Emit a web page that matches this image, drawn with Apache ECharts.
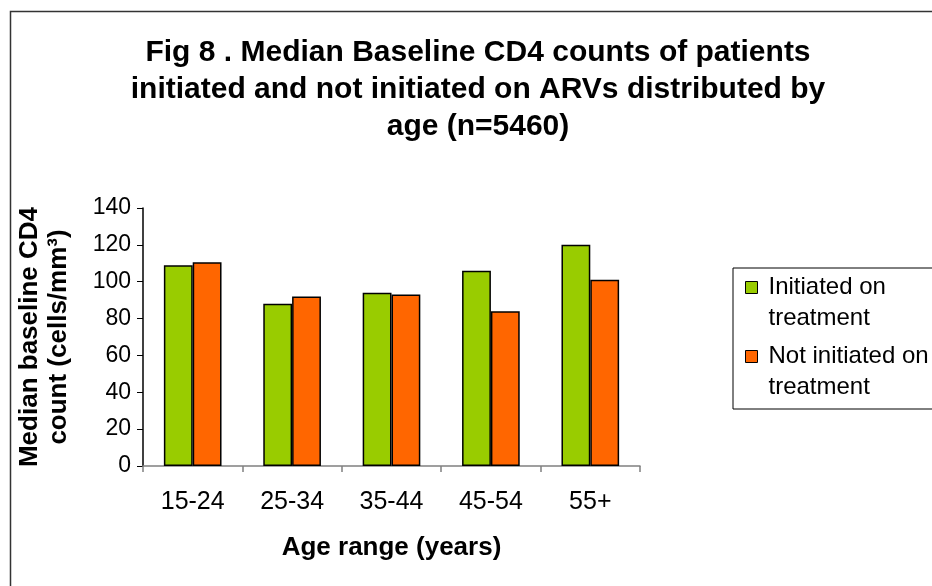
<!DOCTYPE html>
<html>
<head>
<meta charset="utf-8">
<script src="https://cdn.jsdelivr.net/npm/echarts@6/dist/echarts.min.js"></script>
<style>html,body{margin:0;padding:0;background:#fff}#c{width:932px;height:586px}</style>
</head>
<body>
<div id="c"></div>
<script>
var categories = ['15-24', '25-34', '35-44', '45-54', '55+'];
var initiated = [109, 88, 94, 106, 120];
var notInitiated = [110.5, 92, 93, 84, 101];
var yTicks = [0, 20, 40, 60, 80, 100, 120, 140];
var seriesNames = ['Initiated on treatment', 'Not initiated on treatment'];
var legendLabels = {'Initiated on treatment': 'Initiated on\ntreatment', 'Not initiated on treatment': 'Not initiated on\ntreatment'};

var font = 'Liberation Sans, Arial, sans-serif';
var chart = echarts.init(document.getElementById('c'));
chart.setOption({
  backgroundColor: '#fff',
  animation: false,
  title: {
    text: 'Fig 8 . Median Baseline CD4 counts of patients\ninitiated and not initiated on ARVs distributed by\nage (n=5460)',
    left: 478,
    textAlign: 'center',
    top: 29,
    padding: [5, 0, 5, 0],
    textStyle: {fontFamily: font, fontSize: 30, fontWeight: 'bold', color: '#000', lineHeight: 37}
  },
  graphic: [{
    type: 'rect', left: 8, top: 9, z: -1, silent: true,
    shape: {width: 940, height: 600},
    style: {fill: 'none', stroke: '#333', lineWidth: 1.5}
  }],
  legend: {
    orient: 'vertical',
    left: 733, top: 268,
    padding: [4, 20, 6, 12],
    borderColor: '#000', borderWidth: 1,
    itemWidth: 18, itemHeight: 43, itemGap: 7,
    icon: 'path://M0,0L12,0L12,12L0,12Z M18,43',
    itemStyle: {borderColor: '#000', borderWidth: 1},
    data: seriesNames,
    formatter: function (n) { return legendLabels[n]; },
    textStyle: {fontFamily: font, fontSize: 24, color: '#000', lineHeight: 31}
  },
  grid: {left: 143, right: 292, top: 208, bottom: 120, outerBoundsMode: 'none', containLabel: false},
  xAxis: {
    type: 'category',
    data: categories,
    name: 'Age range (years)',
    nameLocation: 'middle',
    nameGap: 69,
    nameTextStyle: {fontFamily: font, fontSize: 26, fontWeight: 'bold', color: '#000'},
    axisLine: {lineStyle: {color: '#808080', width: 1.5}},
    axisTick: {show: true, length: 6, lineStyle: {color: '#808080', width: 1.5}},
    axisLabel: {fontFamily: font, fontSize: 25, color: '#000', margin: 24},
    splitLine: {show: false}
  },
  yAxis: {
    type: 'value',
    min: 0, max: 140, interval: 20,
    name: 'Median baseline CD4\ncount (cells/mm³)',
    nameLocation: 'middle',
    nameGap: 70,
    nameTextStyle: {fontFamily: font, fontSize: 26, fontWeight: 'bold', color: '#000', lineHeight: 29},
    axisLine: {show: true, lineStyle: {color: '#000', width: 1.5}},
    axisTick: {show: true, length: 6, lineStyle: {color: '#000', width: 1}},
    axisLabel: {fontFamily: font, fontSize: 23, color: '#000', margin: 12,
      formatter: function (v) { return yTicks.indexOf(v) >= 0 ? String(v) : ''; }},
    splitLine: {show: false}
  },
  series: [{
    name: seriesNames[0], type: 'bar', data: initiated,
    barGap: '0%', barCategoryGap: '42%',
    itemStyle: {color: '#99CC00', borderColor: '#000', borderWidth: 1.5}
  }, {
    name: seriesNames[1], type: 'bar', data: notInitiated,
    itemStyle: {color: '#FF6600', borderColor: '#000', borderWidth: 1.5}
  }]
});
</script>
</body>
</html>
